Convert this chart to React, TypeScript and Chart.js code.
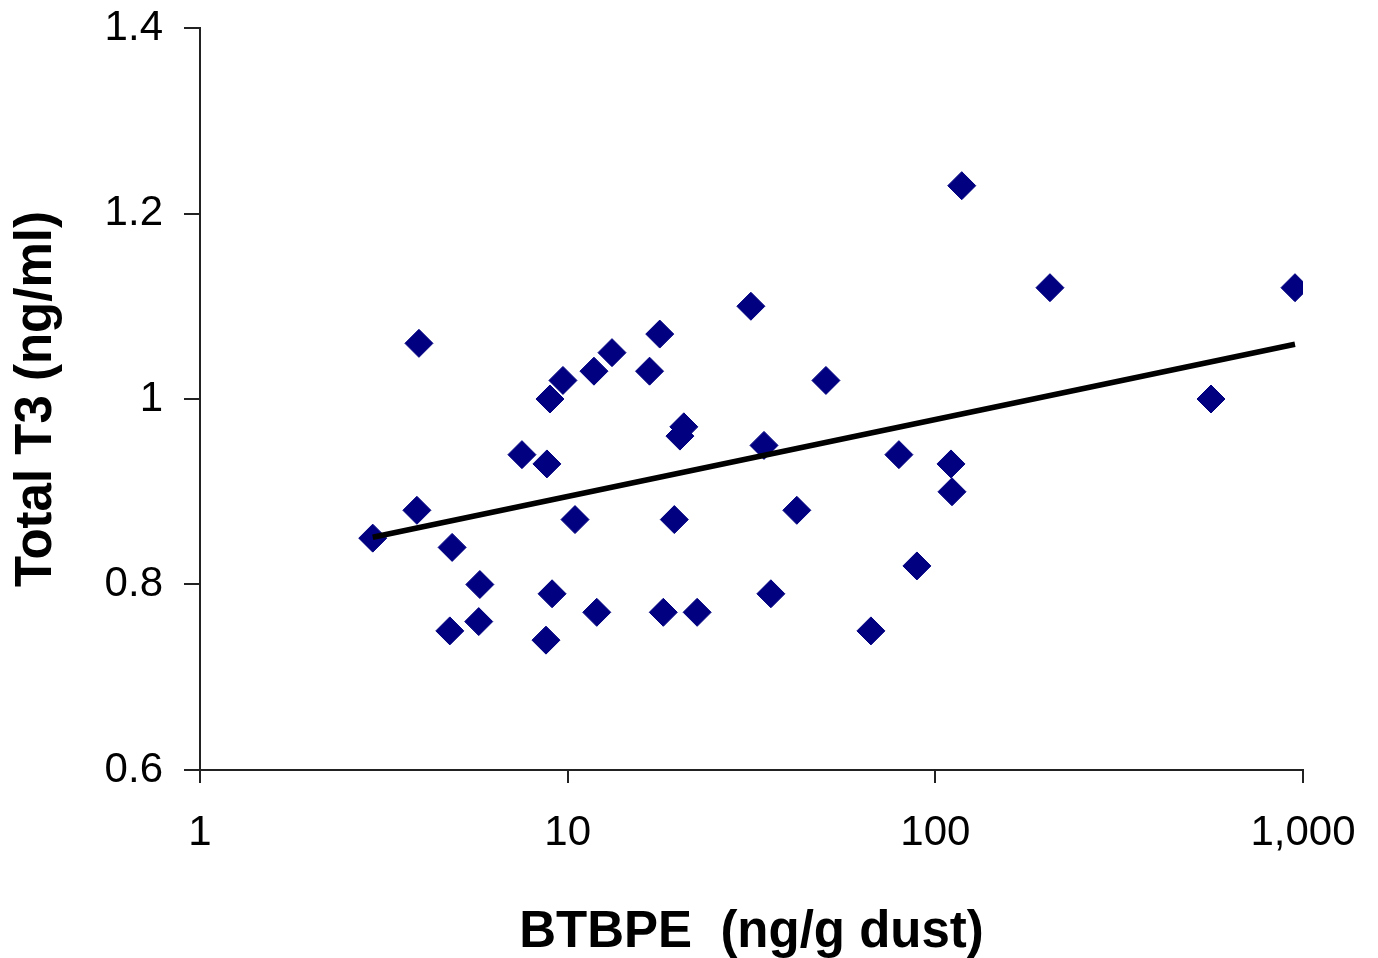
import React, { useEffect, useRef } from "react";
import { Chart, registerables } from "chart.js";

Chart.register(...registerables);

const btbpeValues = [2.95, 3.94, 3.89, 4.78, 4.85, 5.77, 5.73, 7.51, 8.78, 8.95, 9.71, 9.07, 8.73, 10.47, 11.79, 13.2, 12.0, 16.7, 17.8, 18.2, 19.5, 20.7, 20.2, 22.5, 31.5, 34.2, 35.7, 42.0, 50.4, 66.8, 79.6, 89.1, 110.3, 111, 118, 205, 562, 951];
const t3Values = [0.85, 1.06, 0.88, 0.75, 0.84, 0.80, 0.76, 0.94, 0.93, 1.00, 1.02, 0.79, 0.74, 0.87, 1.03, 1.05, 0.77, 1.03, 1.07, 0.77, 0.87, 0.97, 0.96, 0.77, 1.10, 0.95, 0.79, 0.88, 1.02, 0.75, 0.94, 0.82, 0.93, 0.90, 1.23, 1.12, 1.00, 1.12];

const trendX = [2.95, 951];
const trendY = [0.851, 1.059];

const xTickValues = [1, 10, 100, 1000];
const xTickLabels = ["1", "10", "100", "1,000"];
const yTickValues = [0.6, 0.8, 1.0, 1.2, 1.4];
const yTickLabels = ["0.6", "0.8", "1", "1.2", "1.4"];

const xTitle = "BTBPE  (ng/g dust)";
const yTitle = "Total T3 (ng/ml)";

const FONT = "'Liberation Sans', Arial, Helvetica, sans-serif";

export default function App() {
  const ref = useRef<HTMLCanvasElement | null>(null);

  useEffect(() => {
    if (!ref.current) return;
    const chart = new Chart(ref.current, {
      type: "scatter",
      data: {
        datasets: [
          {
            label: "Trend",
            data: trendX.map((x, i) => ({ x, y: trendY[i] })),
            showLine: true,
            borderColor: "#000000",
            borderWidth: 5.5,
            pointRadius: 0,
            order: 0,
          },
          {
            label: "Data",
            data: btbpeValues.map((x, i) => ({ x, y: t3Values[i] })),
            pointStyle: "rectRot",
            pointRadius: 14,
            pointBackgroundColor: "#000080",
            pointBorderColor: "#000080",
            pointBorderWidth: 1,
            order: 1,
          },
        ],
      },
      options: {
        responsive: false,
        animation: false,
        layout: { autoPadding: false, padding: { left: 0, top: 28, right: 75, bottom: 0 } },
        plugins: {
          legend: { display: false },
          tooltip: { enabled: false },
        },
        scales: {
          x: {
            type: "logarithmic",
            min: 1,
            max: 1000,
            afterBuildTicks: (scale: any) => {
              scale.ticks = xTickValues.map((v) => ({ value: v }));
            },
            afterFit: (scale: any) => {
              scale.height = 188;
              scale.paddingLeft = 0;
              scale.paddingRight = 0;
            },
            ticks: {
              callback: (v: any) => {
                const i = xTickValues.indexOf(Number(v));
                return i >= 0 ? xTickLabels[i] : "";
              },
              color: "#000000",
              font: { family: FONT, size: 42 },
              padding: 25,
              maxRotation: 0,
              autoSkip: false,
            },
            grid: {
              drawOnChartArea: false,
              drawTicks: true,
              tickLength: 13,
              color: "#222222",
              lineWidth: 2,
            },
            border: { display: true, color: "#222222", width: 2 },
            title: {
              display: true,
              text: xTitle,
              color: "#000000",
              font: { family: FONT, size: 51, weight: "bold" },
              padding: { top: 0, bottom: -6 },
            },
          },
          y: {
            type: "linear",
            min: 0.6,
            max: 1.4,
            afterBuildTicks: (scale: any) => {
              scale.ticks = yTickValues.map((v) => ({ value: v }));
            },
            afterFit: (scale: any) => {
              scale.width = 200;
              scale.paddingTop = 0;
              scale.paddingBottom = 0;
            },
            ticks: {
              callback: (v: any) => {
                const i = yTickValues.findIndex((t) => Math.abs(t - Number(v)) < 1e-9);
                return i >= 0 ? yTickLabels[i] : "";
              },
              color: "#000000",
              font: { family: FONT, size: 42 },
              padding: 21,
            },
            grid: {
              drawOnChartArea: false,
              drawTicks: true,
              tickLength: 16,
              color: "#222222",
              lineWidth: 2,
            },
            border: { display: true, color: "#222222", width: 2 },
            title: {
              display: true,
              text: yTitle,
              color: "#000000",
              font: { family: FONT, size: 51, weight: "bold" },
              padding: { top: 6, bottom: 0 },
            },
          },
        },
      },
    });
    return () => chart.destroy();
  }, []);

  return (
    <div style={{ position: "absolute", left: 0, top: 0, width: 1378, height: 958, background: "#ffffff" }}>
      <canvas ref={ref} width={1378} height={958} style={{ display: "block" }} />
    </div>
  );
}
